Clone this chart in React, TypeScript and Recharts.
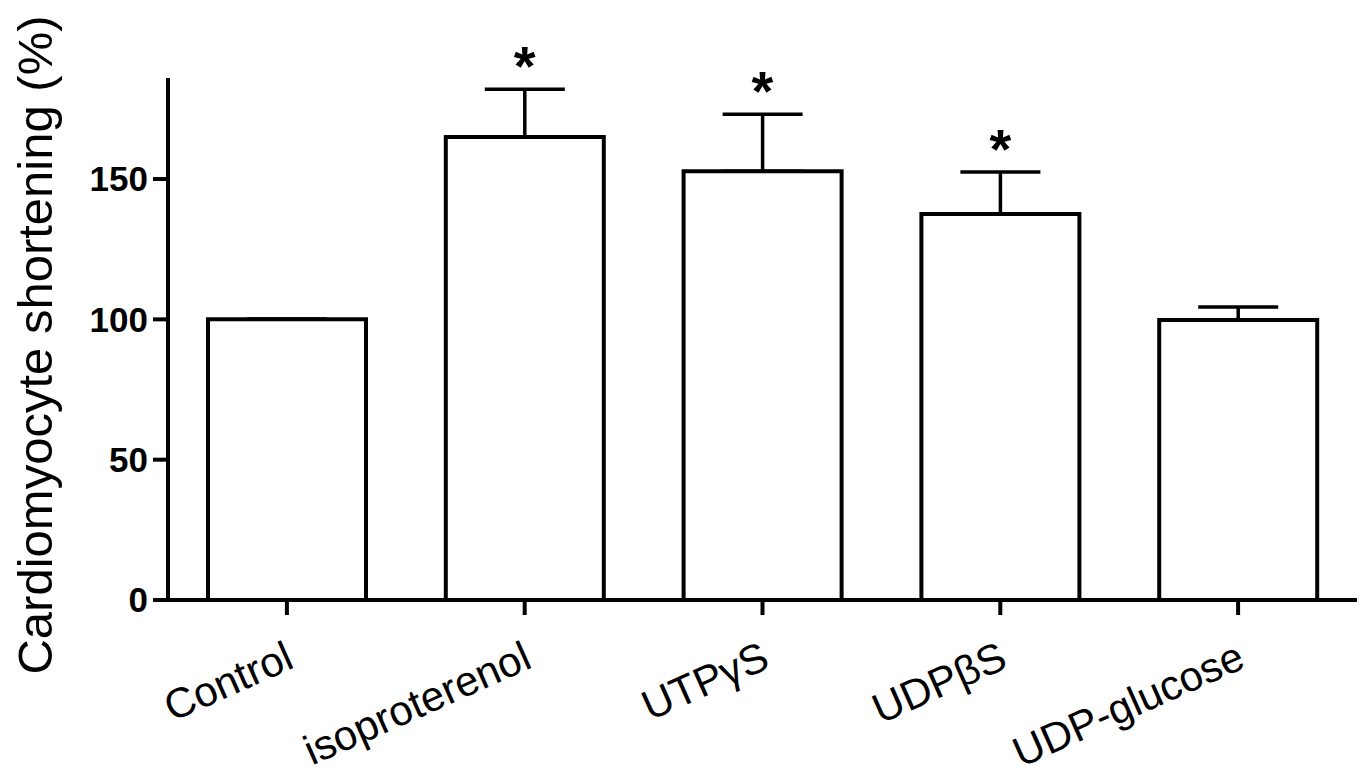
import React from 'react';
import {
  ComposedChart,
  Bar,
  Line,
  XAxis,
  YAxis,
  ErrorBar
} from 'recharts';

// Values (mean and upper SEM, % of control)
const groups = ['Control', 'isoproterenol', 'UTPγS', 'UDPβS', 'UDP-glucose'];
const means = [100, 165, 152.8, 137.5, 99.8];
const sems = [0, 17, 20.3, 15, 4.6];
const significant = [false, true, true, true, false];
const yTicks = [0, 50, 100, 150];

const FONT = 'Arial, "Liberation Sans", Helvetica, sans-serif';

const data = groups.map((name, i) => ({
  name,
  mean: means[i],
  err: [0, sems[i]],
  star: significant[i] ? means[i] + sems[i] : null
}));

const XTick = (props: any) => {
  const { x, y, payload } = props;
  return (
    <g transform={`translate(${x + 9},${y + 50})`}>
      <text
        textAnchor="end"
        transform="rotate(-24)"
        fontSize={42}
        fontFamily={FONT}
        fill="#000"
      >
        {payload.value}
      </text>
    </g>
  );
};

// Asterisk drawn just above the error bar cap
const Star = (props: any) => {
  const { cx, cy, index } = props;
  if (cy == null || isNaN(cy)) return <g key={`s-${index}`} />;
  return (
    <text
      key={`s-${index}`}
      x={cx}
      y={cy - 4}
      textAnchor="middle"
      fontSize={56}
      fontWeight="bold"
      fontFamily={FONT}
      fill="#000"
    >
      *
    </text>
  );
};

const App: React.FC = () => {
  return (
    <div style={{ position: 'absolute', left: 0, top: 0, background: '#fff' }}>
      <ComposedChart
        width={1363}
        height={777}
        data={data}
        margin={{ top: 78, right: 6, left: 0, bottom: 0 }}
      >
        <XAxis
          dataKey="name"
          height={177}
          stroke="#000"
          axisLine={{ stroke: '#000', strokeWidth: 4 }}
          tickLine={{ stroke: '#000', strokeWidth: 4 }}
          tickSize={15}
          interval={0}
          tick={<XTick />}
        />
        <YAxis
          width={168}
          domain={[0, 186]}
          ticks={yTicks}
          axisLine={{ stroke: '#000', strokeWidth: 4 }}
          tickLine={{ stroke: '#000', strokeWidth: 4 }}
          tickSize={15}
          tickMargin={5}
          tick={{ fill: '#000', fontSize: 35, fontWeight: 'bold', fontFamily: FONT }}
          label={{
            content: () => (
              <text
                x={52}
                y={345}
                transform="rotate(-90 52 345)"
                textAnchor="middle"
                fontSize={49}
                fontFamily={FONT}
                fill="#000"
              >
                Cardiomyocyte shortening (%)
              </text>
            )
          }}
        />
        <Bar
          dataKey="mean"
          fill="#fff"
          stroke="#000"
          strokeWidth={4}
          barSize={158}
          isAnimationActive={false}
        >
          <ErrorBar
            dataKey="err"
            direction="y"
            width={40}
            stroke="#000"
            strokeWidth={3.5}
          />
        </Bar>
        <Line
          dataKey="star"
          stroke="none"
          dot={Star}
          activeDot={false}
          isAnimationActive={false}
        />
      </ComposedChart>
    </div>
  );
};

export default App;
